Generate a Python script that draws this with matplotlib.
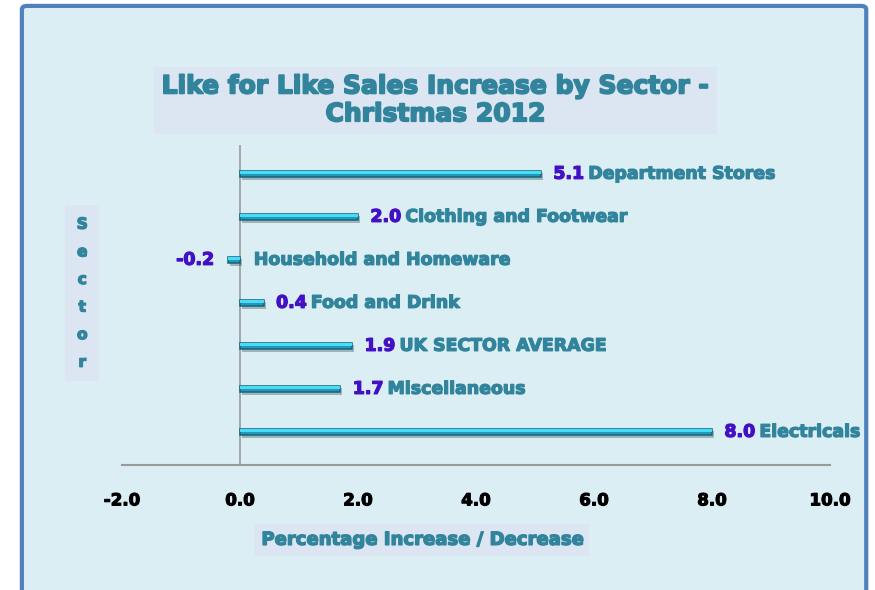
import matplotlib.pyplot as plt
import matplotlib.patheffects as pe
from matplotlib.patches import FancyBboxPatch

sectors = ["Department Stores", "Clothing and Footwear", "Household and Homeware",
           "Food and Drink", "UK SECTOR AVERAGE", "Miscellaneous", "Electricals"]
values = [5.1, 2.0, -0.2, 0.4, 1.9, 1.7, 8.0]
xticks = [-2.0, 0.0, 2.0, 4.0, 6.0, 8.0, 10.0]

TEAL = "#31849B"
PURPLE = "#4310C4"
BG = "#DBEEF4"
BOX = "#DCE6F2"
FONT = ["DejaVu Sans"]


def heavy(color, w=0.9):
    # fake a heavier typeface by stroking the glyphs
    return [pe.withStroke(linewidth=w, foreground=color)]


fig = plt.figure(figsize=(8.75, 5.9), dpi=100)
fig.patch.set_facecolor("white")

# outer rounded panel
panel = FancyBboxPatch((0.025, -0.05), 0.965, 1.04, boxstyle="round,pad=0,rounding_size=0.006",
                       transform=fig.transFigure, facecolor=BG, edgecolor="#4F81BD",
                       linewidth=3, zorder=-5)
fig.patches.append(panel)

ax = fig.add_axes([0.1394, 0.2119, 0.8091, 0.5424])
ax.patch.set_alpha(0)

pos = list(range(len(sectors)))
bars = ax.barh(pos, values, height=0.15, color="#2399B8", edgecolor="#17627C",
               linewidth=1.1, zorder=3)
for b in bars:
    b.set_path_effects([pe.SimplePatchShadow(offset=(1.5, -2), alpha=0.3), pe.Normal()])
# glossy top half
ax.barh([p - 0.025 for p in pos], values, height=0.06, color="#46DDFA",
        edgecolor="none", zorder=4)

ax.set_xlim(-2, 10)
ax.set_ylim(6.77, -0.67)
ax.set_xticks(xticks)
ax.set_xticklabels([f"{t:.1f}" for t in xticks], fontsize=12, fontweight="bold",
                   family=FONT, color="black")
for lab in ax.get_xticklabels():
    lab.set_path_effects(heavy("black", 0.8))
ax.tick_params(axis="x", length=0, pad=19)
ax.set_yticks([])
for s in ["top", "right", "left"]:
    ax.spines[s].set_visible(False)
ax.spines["bottom"].set_color("#9A9A9A")
ax.spines["bottom"].set_linewidth(1.5)
ax.axvline(0, color="#9A9A9A", linewidth=1.2, zorder=2)

lab_kw = dict(textcoords="offset points", va="center", fontsize=12.5,
              fontweight="bold", family=FONT)
for i, (name, v) in enumerate(zip(sectors, values)):
    if v >= 0:
        vt = ax.annotate(f"{v:.1f}", xy=(v, i), xytext=(9, 0), ha="left",
                         color=PURPLE, path_effects=heavy(PURPLE), **lab_kw)
        ax.annotate(name, xy=(1, 0.5), xycoords=vt, xytext=(3, 0), ha="left",
                    color=TEAL, path_effects=heavy(TEAL), **lab_kw)
    else:
        ax.annotate(f"{v:.1f}", xy=(v, i), xytext=(-10, 0), ha="right",
                    color=PURPLE, path_effects=heavy(PURPLE), **lab_kw)
        ax.annotate(name, xy=(0, i), xytext=(10, 0), ha="left",
                    color=TEAL, path_effects=heavy(TEAL), **lab_kw)

# title box
fig.text(0.498, 0.83, "Like for Like Sales Increase by Sector -\nChristmas 2012",
         ha="center", va="center", fontsize=18, fontweight="bold", family=FONT,
         color=TEAL, linespacing=1.2, path_effects=heavy(TEAL, 1.3),
         bbox=dict(boxstyle="square,pad=0.3", facecolor=BOX, edgecolor="none"))

# y label box
fig.text(0.094, 0.503, "S\ne\nc\nt\no\nr", ha="center", va="center", fontsize=11,
         fontweight="bold", family=FONT, color=TEAL, linespacing=2.05,
         path_effects=heavy(TEAL, 1.0),
         bbox=dict(boxstyle="square,pad=0.75", facecolor=BOX, edgecolor="none"))

# x label box
fig.text(0.482, 0.085, "Percentage Increase / Decrease", ha="center", va="center",
         fontsize=13, fontweight="bold", family=FONT, color=TEAL,
         path_effects=heavy(TEAL, 1.0),
         bbox=dict(boxstyle="square,pad=0.4", facecolor=BOX, edgecolor="none"))

fig.savefig("out.png", dpi=100, facecolor=fig.get_facecolor())
